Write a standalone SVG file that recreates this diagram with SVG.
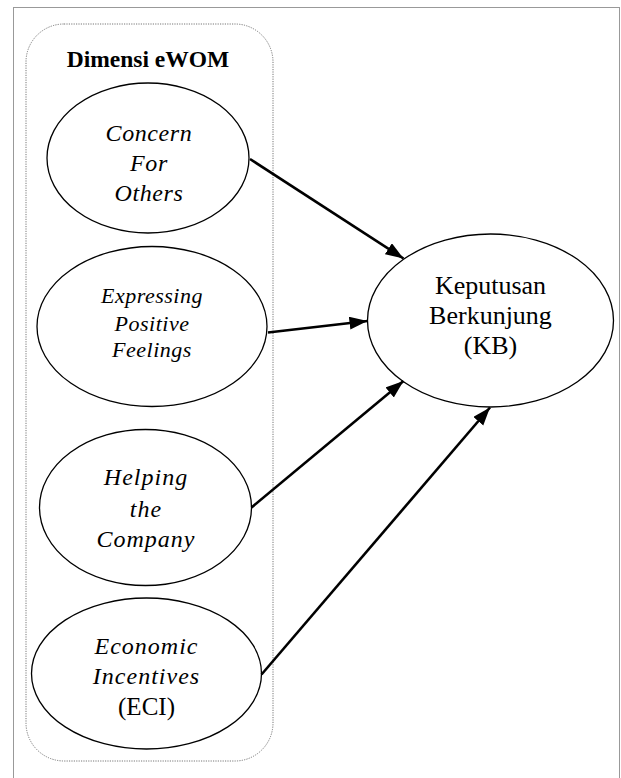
<svg xmlns="http://www.w3.org/2000/svg" width="621" height="778" viewBox="0 0 621 778">
<style>
.node ellipse{fill:#fff;stroke:#000;stroke-width:1.3}
.it{font-family:"Liberation Serif",serif;font-style:italic;font-size:24px;text-anchor:middle;fill:#000}
.rm{font-family:"Liberation Serif",serif;font-size:26px;text-anchor:middle;fill:#000}
.tt{font-family:"Liberation Serif",serif;font-weight:bold;font-size:23.5px;text-anchor:middle;fill:#000}
.conn line{stroke:#000;stroke-width:2.6}
</style>
<defs>
<marker id="ah" markerUnits="userSpaceOnUse" markerWidth="20" markerHeight="14" refX="18" refY="6.5" orient="auto">
<path d="M0,0 L18,6.5 L0,13 z" fill="#000"/>
</marker>
</defs>
<rect x="0" y="0" width="621" height="778" fill="#fff"/>
<rect x="13.5" y="7.5" width="606" height="790" fill="none" stroke="#999" stroke-width="1"/>
<g id="group-ewom">
<rect x="26" y="24" width="247" height="737" rx="38" ry="38" fill="none" stroke="#777" stroke-width="1" stroke-dasharray="1.2 1.2"/>
<text class="tt" x="148" y="67">Dimensi eWOM</text>
</g>
<g id="n-concern" class="node">
<ellipse cx="148" cy="158" rx="101" ry="75"/>
<text class="it" letter-spacing="0.6"><tspan x="149" y="140.5">Concern</tspan><tspan x="149" y="171">For</tspan><tspan x="149" y="200.5">Others</tspan></text>
</g>
<g id="n-expressing" class="node">
<ellipse cx="152" cy="326.5" rx="115" ry="80"/>
<text class="it" letter-spacing="0.5" style="font-size:22px"><tspan x="152" y="302.5">Expressing</tspan><tspan x="152" y="330.5">Positive</tspan><tspan x="152" y="357">Feelings</tspan></text>
</g>
<g id="n-helping" class="node">
<ellipse cx="145.5" cy="507.5" rx="106" ry="78"/>
<text class="it" letter-spacing="1"><tspan x="146" y="485">Helping</tspan><tspan x="146" y="516.5">the</tspan><tspan x="146" y="546.5">Company</tspan></text>
</g>
<g id="n-economic" class="node">
<ellipse cx="146.5" cy="673.5" rx="115" ry="75.5"/>
<text class="it" letter-spacing="1"><tspan x="146.5" y="654">Economic</tspan><tspan x="146.5" y="684">Incentives</tspan></text>
<text class="rm" x="146.5" y="714.5" style="font-size:25px">(ECI)</text>
</g>
<g id="n-kb" class="node">
<ellipse cx="490.5" cy="320.5" rx="123" ry="86.5"/>
<text class="rm"><tspan x="490.5" y="293.5">Keputusan</tspan><tspan x="490.5" y="323.5">Berkunjung</tspan><tspan x="490.5" y="354">(KB)</tspan></text>
</g>
<g id="connectors" class="conn">
<line x1="250" y1="159" x2="403.5" y2="258.5" marker-end="url(#ah)"/>
<line x1="268" y1="332.5" x2="367.5" y2="321" marker-end="url(#ah)"/>
<line x1="251.5" y1="507.5" x2="403.5" y2="381" marker-end="url(#ah)"/>
<line x1="261.5" y1="674.5" x2="490" y2="407.5" marker-end="url(#ah)"/>
</g>
</svg>
